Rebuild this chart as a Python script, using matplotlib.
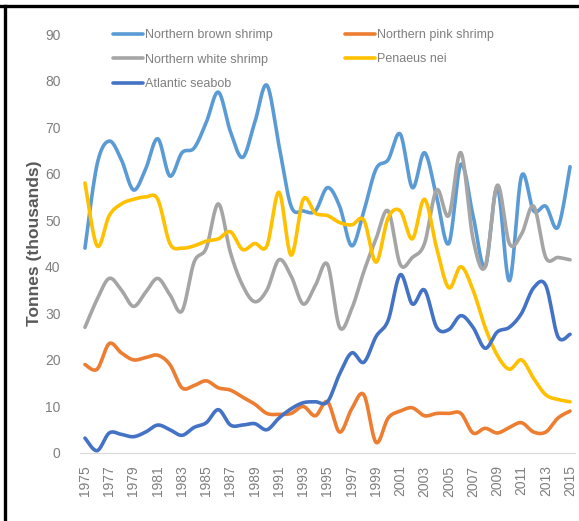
import numpy as np
import matplotlib
matplotlib.use("Agg")
import matplotlib.pyplot as plt
from matplotlib.lines import Line2D

plt.rcParams['font.family'] = ['Liberation Sans', 'DejaVu Sans']

# landings by species, thousand tonnes
years = list(range(1975, 2016))
brown_shrimp = [44, 62, 67, 63, 56.5, 61, 67.5, 59.5, 64.5, 65.5,
                71, 77.5, 69, 63.5, 71, 79, 66, 53, 52, 52,
                57, 53, 44.5, 52, 61, 63, 68.5, 57, 64.5, 55,
                45, 62, 51, 40, 57, 37, 59.5, 52, 53, 48.5,
                61.5]
pink_shrimp = [19, 18, 23.5, 21.5, 20, 20.5, 21, 19, 14, 14.5,
               15.5, 14, 13.5, 12, 10.5, 8.5, 8.3, 8.5, 10, 8,
               11, 4.5, 9.5, 12.5, 2.3, 7.5, 9, 9.7, 8, 8.5,
               8.5, 8.5, 4.3, 5.3, 4.3, 5.5, 6.5, 4.5, 4.5, 7.5,
               9]
white_shrimp = [27, 33, 37.5, 35, 31.5, 34.5, 37.5, 34, 30.5, 41,
                44, 53.5, 43, 36, 32.5, 35, 41.5, 38, 32, 36,
                40.5, 27, 31, 39, 46, 52, 40.5, 42, 45, 56.5,
                51, 64.5, 46, 40, 57.5, 45, 47, 53, 42, 42,
                41.5]
penaeus_nei = [58, 44.5, 51, 53.5, 54.5, 55, 54.5, 45, 44, 44.5,
               45.5, 46, 47.5, 43.7, 45, 44.5, 56, 42.5, 54.5, 51.5,
               51, 49.5, 49, 50, 41, 50.5, 52, 46, 54.5, 44,
               35.5, 40, 35, 27, 21, 18, 20, 16, 12.5, 11.5,
               11]
seabob = [3.2, 0.5, 4.3, 4, 3.5, 4.5, 6, 5, 3.8, 5.5,
          6.5, 9.3, 6, 6, 6.3, 5, 7.5, 9.5, 10.8, 11,
          11, 17, 21.5, 19.5, 25, 28.5, 38.3, 32, 35, 27,
          26.5, 29.5, 27, 22.5, 26, 27, 30, 35.5, 36, 25,
          25.5]

series = [
    ("Northern brown shrimp", brown_shrimp, "#5B9BD5"),
    ("Northern pink shrimp", pink_shrimp, "#ED7D31"),
    ("Northern white shrimp", white_shrimp, "#A5A5A5"),
    ("Penaeus nei", penaeus_nei, "#FFC000"),
    ("Atlantic seabob", seabob, "#4472C4"),
]


def smooth(x, y, n=20):
    # Catmull-Rom curve through every point (same look as a spreadsheet "smoothed line")
    x = np.asarray(x, float)
    y = np.asarray(y, float)
    px = np.concatenate([[x[0]], x, [x[-1]]])
    py = np.concatenate([[y[0]], y, [y[-1]]])
    xs, ys = [], []
    t = np.linspace(0, 1, n, endpoint=False)
    for i in range(1, len(px) - 2):
        p0, p1, p2, p3 = py[i - 1], py[i], py[i + 1], py[i + 2]
        q0, q1, q2, q3 = px[i - 1], px[i], px[i + 1], px[i + 2]
        c1y, c2y = p1 + (p2 - p0) / 6, p2 - (p3 - p1) / 6
        c1x, c2x = q1 + (q2 - q0) / 6, q2 - (q3 - q1) / 6
        b0, b1, b2, b3 = (1 - t) ** 3, 3 * (1 - t) ** 2 * t, 3 * (1 - t) * t ** 2, t ** 3
        xs.append(b0 * q1 + b1 * c1x + b2 * c2x + b3 * q2)
        ys.append(b0 * p1 + b1 * c1y + b2 * c2y + b3 * p2)
    xs.append([x[-1]])
    ys.append([y[-1]])
    return np.concatenate(xs), np.concatenate(ys)


fig = plt.figure(figsize=(5.79, 5.21), dpi=100)
ax = fig.add_axes([80 / 579, 1 - 453 / 521, 495 / 579, 419 / 521])

handles = {}
for name, vals, color in series:
    sx, sy = smooth(years, vals)
    line, = ax.plot(sx, sy, color=color, lw=2.6, solid_capstyle='round', clip_on=False)
    handles[name] = line

ax.set_xlim(1974.59, 2015.41)
ax.set_ylim(0, 90)
ax.set_yticks(range(0, 91, 10))
ax.set_xticks(years[::2])
ax.set_xticklabels([str(y) for y in years[::2]], rotation=90)
ax.tick_params(axis='both', length=0, colors='#7F7F7F', labelsize=10)
ax.tick_params(axis='y', pad=14)
ax.tick_params(axis='x', pad=9)
for s in ['top', 'right', 'left']:
    ax.spines[s].set_visible(False)
ax.spines['bottom'].set_color('#D9D9D9')

fig.text(35 / 579, 1 - 243 / 521, "Tonnes (thousands)", rotation=90, ha='center', va='center',
         fontsize=12.5, fontweight='bold', color='#595959')

# legend in two columns: column-major order
order = ["Northern brown shrimp", "Northern white shrimp", "Atlantic seabob",
         "Northern pink shrimp", "Penaeus nei"]
fig.legend([handles[k] for k in order], order, loc='upper left',
           bbox_to_anchor=(113 / 579, 1 - 29 / 521), ncol=2, frameon=False,
           fontsize=9, handlelength=2.4, handletextpad=0.15, labelspacing=1.0,
           columnspacing=5.8, borderpad=0, borderaxespad=0, labelcolor='#7F7F7F')

# frame lines along the top and left edges
fig.add_artist(Line2D([0, 1], [1 - 6 / 521] * 2, transform=fig.transFigure, color='black', lw=2.4))
fig.add_artist(Line2D([5 / 579] * 2, [0, 1 - 6 / 521], transform=fig.transFigure, color='black', lw=2.4))

fig.savefig("out.png", dpi=100)
